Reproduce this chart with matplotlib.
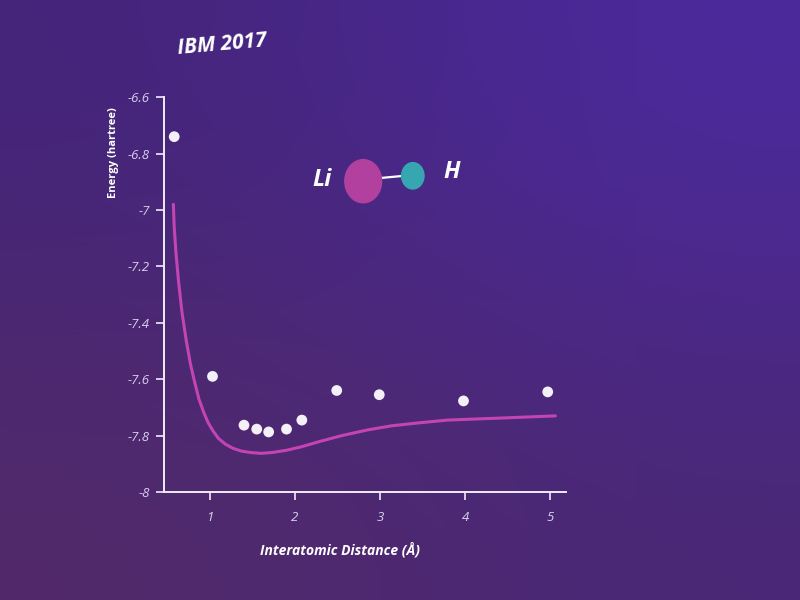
import numpy as np
import matplotlib
matplotlib.use('Agg')
import matplotlib.pyplot as plt
from matplotlib.patches import Ellipse
from matplotlib.lines import Line2D
from matplotlib.ticker import FixedLocator, FuncFormatter

# ---- Data ---------------------------------------------
dist_pts = [0.58, 1.03, 1.40, 1.55, 1.69, 1.90, 2.08, 2.49, 2.99, 3.98, 4.97]
energy_pts = [-6.74, -7.59, -7.763, -7.777, -7.787, -7.777, -7.745, -7.64, -7.655, -7.677, -7.645]

dist_curve = [0.57, 0.58, 0.60, 0.63, 0.67, 0.72, 0.77, 0.82, 0.87, 0.93, 0.98, 1.04,
              1.10, 1.18, 1.27, 1.37, 1.48, 1.60, 1.73, 1.90, 2.07, 2.30, 2.55, 2.85,
              3.14, 3.45, 3.79, 4.40, 5.06]
energy_curve = [-6.98, -7.06, -7.15, -7.25, -7.36, -7.46, -7.545, -7.61, -7.67, -7.72,
                -7.755, -7.785, -7.81, -7.83, -7.845, -7.855, -7.86, -7.863, -7.86,
                -7.852, -7.84, -7.82, -7.80, -7.78, -7.765, -7.755, -7.745, -7.738, -7.73]

x_ticks = [1, 2, 3, 4, 5]
y_ticks = [-6.6, -6.8, -7.0, -7.2, -7.4, -7.6, -7.8, -8.0]

# ---- Figure & background -------------------------------
fig = plt.figure(figsize=(8, 6), dpi=100)
bg = fig.add_axes([0, 0, 1, 1])
bg_cols = np.array([[[68, 37, 122], [76, 42, 158]],
                    [[82, 42, 106], [74, 40, 118]]]) / 255.0
bg.imshow(bg_cols, extent=[0, 1, 0, 1], interpolation='bicubic', aspect='auto')
bg.set_xlim(0, 1)
bg.set_ylim(0, 1)
bg.axis('off')

# ---- Main plot -----------------------------------------
ax = fig.add_axes([0.205, 0.18, 0.502, 0.658])
ax.patch.set_alpha(0)
ax.plot(dist_curve, energy_curve, color='#c444b4', lw=2.2,
        solid_capstyle='round', solid_joinstyle='round')
ax.scatter(dist_pts, energy_pts, s=60, color='#f4f0f8', zorder=3, edgecolors='none')

ax.set_xlim(0.46, 5.18)
ax.set_ylim(-8.0, -6.6)
for side in ['top', 'right']:
    ax.spines[side].set_visible(False)
for side in ['left', 'bottom']:
    ax.spines[side].set_color('#f0ecf8')
    ax.spines[side].set_linewidth(1.4)

ax.xaxis.set_major_locator(FixedLocator(x_ticks))
ax.yaxis.set_major_locator(FixedLocator(y_ticks))
ax.yaxis.set_major_formatter(FuncFormatter(lambda v, p: '%g' % v))
ax.tick_params(colors='#f0ecf8', length=6, width=1.2, direction='out')
for lab in ax.get_xticklabels() + ax.get_yticklabels():
    lab.set_color('#d8d0ee')
    lab.set_fontstyle('italic')
    lab.set_fontfamily('Open Sans')
    lab.set_fontsize(9.5)
ax.tick_params(axis='x', pad=8)
ax.tick_params(axis='y', pad=4)

ax.text(-0.125, 0.86, 'Energy (hartree)', transform=ax.transAxes, rotation=90,
        ha='center', va='center', color='white', fontsize=8, fontweight='bold',
        family='Open Sans')
fig.text(0.425, 0.083, 'Interatomic Distance (Å)', ha='center', va='center',
         color='white', fontsize=10, fontweight='bold', fontstyle='italic',
         family='Open Sans')

# ---- Title & molecule ----------------------------------
fig.text(0.278, 0.925, 'IBM 2017', ha='center', va='center', color='white',
         fontsize=15, fontweight='bold', fontstyle='italic', rotation=5,
         family='Open Sans')

fig.text(0.402, 0.70, 'Li', ha='center', va='center', color='white',
         fontsize=17, fontweight='bold', fontstyle='italic', family='Open Sans')
fig.text(0.564, 0.713, 'H', ha='center', va='center', color='white',
         fontsize=17, fontweight='bold', fontstyle='italic', family='Open Sans')
fig.add_artist(Line2D([0.473, 0.505], [0.703, 0.707], transform=fig.transFigure,
                      color='white', lw=1.6))
fig.add_artist(Ellipse((0.454, 0.698), 0.046, 0.072, transform=fig.transFigure,
                       color='#b2409e', zorder=3))
fig.add_artist(Ellipse((0.516, 0.707), 0.028, 0.044, transform=fig.transFigure,
                       color='#36a6b0', zorder=3))

fig.savefig('out.png', dpi=100)
